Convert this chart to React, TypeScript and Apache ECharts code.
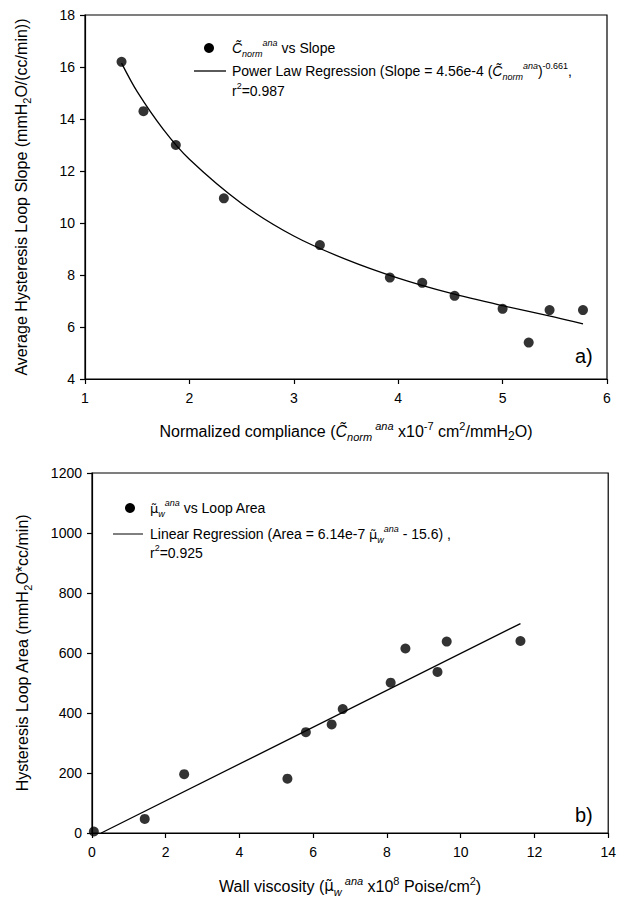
import React, { useEffect, useRef } from "react";
import * as echarts from "echarts";

// Panel a) data
const complianceX = [1.35, 1.56, 1.87, 2.33, 3.25, 3.92, 4.23, 4.54, 5.0, 5.25, 5.45, 5.77];
const slopeY = [16.2, 14.3, 13.0, 10.95, 9.15, 7.9, 7.7, 7.2, 6.7, 5.4, 6.65, 6.65];
const powerFitX = [1.35, 1.5, 1.75, 2.0, 2.5, 3.0, 3.5, 4.0, 4.5, 5.0, 5.5, 5.77];
const powerFitY = [16.15, 15.05, 13.6, 12.45, 10.75, 9.5, 8.6, 7.88, 7.3, 6.82, 6.38, 6.12];
const aXTicks = [1, 6, 1];
const aYTicks = [4, 18, 2];

// Panel b) data
const viscosityX = [0.05, 1.43, 2.5, 5.3, 5.8, 6.5, 6.8, 8.1, 8.5, 9.37, 9.62, 11.62];
const areaY = [5, 47, 196, 181, 336, 362, 413, 501, 615, 537, 638, 640];
const linearFitX = [0.25, 11.62];
const linearFitY = [0, 698];
const bXTicks = [0, 14, 2];
const bYTicks = [0, 1200, 200];

const FONT = "'Liberation Sans', Arial, sans-serif";
const MU = "'DejaVu Sans', 'Liberation Sans', sans-serif";

const richBase = (size: number, lh: number) => ({
  t: { fontSize: size, fontFamily: FONT, color: "#000", lineHeight: lh },
  ti: { fontSize: size, fontFamily: FONT, color: "#000", fontStyle: "italic", lineHeight: lh },
  mu: { fontSize: size - 1, fontFamily: MU, color: "#000", lineHeight: lh },
  sub: { fontSize: size - 5, fontFamily: FONT, color: "#000", verticalAlign: "bottom", lineHeight: lh - 7 },
  subi: { fontSize: size - 5, fontFamily: FONT, color: "#000", fontStyle: "italic", verticalAlign: "bottom", lineHeight: lh - 7 },
  sup: { fontSize: size - 5, fontFamily: FONT, color: "#000", verticalAlign: "top", lineHeight: lh - 7 },
  supi: { fontSize: size - 5, fontFamily: FONT, color: "#000", fontStyle: "italic", verticalAlign: "top", lineHeight: lh - 7 },
  sm: { fontSize: size - 4, fontFamily: FONT, color: "#000", lineHeight: lh, verticalAlign: "bottom" },
});

const zip = (xs: number[], ys: number[]) => xs.map((x, i) => [x, ys[i]]);

export default function App() {
  const ref = useRef<HTMLDivElement>(null);
  useEffect(() => {
    if (!ref.current) return;
    const chart = echarts.init(ref.current, undefined, { renderer: "svg" });
    const axisCommon = {
      axisLine: { show: true, lineStyle: { color: "#000", width: 1.2 } },
      axisTick: { show: true, inside: false, length: 5, lineStyle: { color: "#000", width: 1.2 } },
      splitLine: { show: false },
    };
    const xLabel = { color: "#000", fontSize: 14, fontFamily: FONT, margin: 12, formatter: (v: number) => String(v) };
    const yLabel = { color: "#000", fontSize: 14, fontFamily: FONT, margin: 10, formatter: (v: number) => String(v) };
    const richTitle = richBase(16, 22);
    const rich = richBase(14, 20);
    chart.setOption({
      animation: false,
      backgroundColor: "#fff",
      grid: [
        { left: 85, top: 15, width: 522, height: 364, show: true, borderColor: "#000", borderWidth: 1.2, backgroundColor: "transparent" },
        { left: 92, top: 473, width: 517, height: 360, show: true, borderColor: "#000", borderWidth: 1.2, backgroundColor: "transparent" },
      ],
      xAxis: [
        {
          ...axisCommon,
          axisLabel: xLabel,
          type: "value",
          gridIndex: 0,
          min: aXTicks[0],
          max: aXTicks[1],
          interval: aXTicks[2],
          name:
            "{t|Normalized compliance (}{ti|C\u0303}{subi|norm}{supi| ana}{t| x10}{sup|-7}{t| cm}{sup|2}{t|/mmH}{sm|2}{t|O)}",
          nameLocation: "middle",
          nameGap: 41,
          nameTextStyle: { rich: richTitle },
        },
        {
          ...axisCommon,
          axisLabel: xLabel,
          type: "value",
          gridIndex: 1,
          min: bXTicks[0],
          max: bXTicks[1],
          interval: bXTicks[2],
          name: "{t|Wall viscosity (}{mu|\u03bc\u0303}{subi|w}{supi| ana}{t| x10}{sup|8}{t| Poise/cm}{sup|2}{t|)}",
          nameLocation: "middle",
          nameGap: 42,
          nameTextStyle: { rich: richTitle },
        },
      ],
      yAxis: [
        {
          ...axisCommon,
          axisLabel: yLabel,
          type: "value",
          gridIndex: 0,
          min: aYTicks[0],
          max: aYTicks[1],
          interval: aYTicks[2],
          name: "{t|Average Hysteresis Loop Slope (mmH}{sub|2}{t|O/(cc/min))}",
          nameLocation: "middle",
          nameRotate: 90,
          nameGap: 53,
          nameTextStyle: { rich: richTitle },
        },
        {
          ...axisCommon,
          axisLabel: yLabel,
          type: "value",
          gridIndex: 1,
          min: bYTicks[0],
          max: bYTicks[1],
          interval: bYTicks[2],
          name: "{t|Hysteresis Loop Area (mmH}{sub|2}{t|O*cc/min)}",
          nameLocation: "middle",
          nameRotate: 90,
          nameGap: 59,
          nameTextStyle: { rich: richTitle },
        },
      ],
      series: [
        {
          type: "line",
          xAxisIndex: 0,
          yAxisIndex: 0,
          data: zip(powerFitX, powerFitY),
          showSymbol: false,
          smooth: 0.3,
          lineStyle: { color: "#000", width: 1.3 },
          z: 2,
        },
        {
          type: "scatter",
          xAxisIndex: 0,
          yAxisIndex: 0,
          data: zip(complianceX, slopeY),
          symbol: "circle",
          symbolSize: 10,
          itemStyle: { color: "#000" },
          z: 3,
        },
        {
          type: "line",
          xAxisIndex: 1,
          yAxisIndex: 1,
          data: zip(linearFitX, linearFitY),
          showSymbol: false,
          lineStyle: { color: "#000", width: 1.3 },
          z: 2,
        },
        {
          type: "scatter",
          xAxisIndex: 1,
          yAxisIndex: 1,
          data: zip(viscosityX, areaY),
          symbol: "circle",
          symbolSize: 10,
          itemStyle: { color: "#000" },
          z: 3,
        },
      ],
      graphic: [
        // Legend a)
        { type: "circle", shape: { cx: 209, cy: 48, r: 5 }, style: { fill: "#000" } },
        { type: "line", shape: { x1: 194, y1: 71, x2: 226, y2: 71 }, style: { stroke: "#000", lineWidth: 1.3 } },
        {
          type: "text",
          x: 232,
          y: 48,
          style: {
            text: "{ti|C\u0303}{subi|norm}{supi|ana}{t| vs Slope}",
            rich,
            verticalAlign: "middle",
          },
        },
        {
          type: "text",
          x: 232,
          y: 71,
          style: {
            text: "{t|Power Law Regression (Slope = 4.56e-4 (}{ti|C\u0303}{subi|norm}{supi|ana}{t|)}{sup|-0.661}{t|,}",
            rich,
            verticalAlign: "middle",
          },
        },
        {
          type: "text",
          x: 232,
          y: 91,
          style: { text: "{t|r}{sup|2}{t|=0.987}", rich, verticalAlign: "middle" },
        },
        { type: "text", x: 575, y: 356, style: { text: "a)", font: `20px ${FONT}`, fill: "#000", verticalAlign: "middle" } },
        // Legend b)
        { type: "circle", shape: { cx: 130, cy: 508, r: 5 }, style: { fill: "#000" } },
        { type: "line", shape: { x1: 113, y1: 534, x2: 143, y2: 534 }, style: { stroke: "#000", lineWidth: 1 } },
        {
          type: "text",
          x: 150,
          y: 508,
          style: { text: "{mu|\u03bc\u0303}{subi|w}{supi|ana}{t| vs Loop Area}", rich, verticalAlign: "middle" },
        },
        {
          type: "text",
          x: 150,
          y: 534,
          style: {
            text: "{t|Linear Regression (Area = 6.14e-7 }{mu|\u03bc\u0303}{subi|w}{supi|ana}{t| - 15.6) ,}",
            rich,
            verticalAlign: "middle",
          },
        },
        {
          type: "text",
          x: 150,
          y: 553,
          style: { text: "{t|r}{sup|2}{t|=0.925}", rich, verticalAlign: "middle" },
        },
        { type: "text", x: 575, y: 815, style: { text: "b)", font: `20px ${FONT}`, fill: "#000", verticalAlign: "middle" } },
      ],
    });
    return () => chart.dispose();
  }, []);
  return <div ref={ref} style={{ position: "fixed", left: 0, top: 0, width: 619, height: 902, background: "#fff" }} />;
}
